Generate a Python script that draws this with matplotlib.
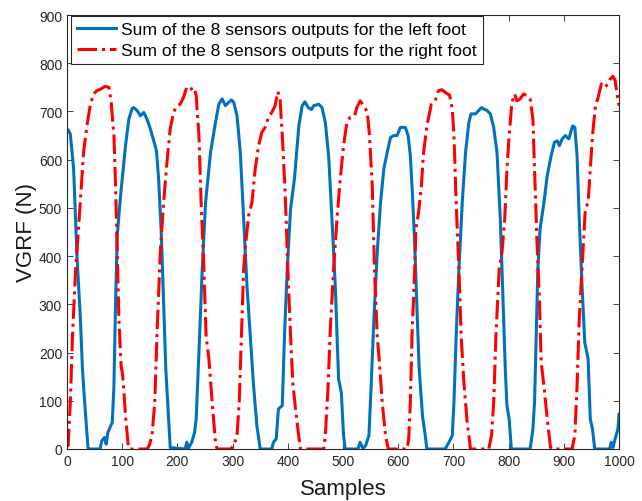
import matplotlib
matplotlib.use("Agg")
import matplotlib.pyplot as plt

plt.rcParams['font.family'] = ['Liberation Sans', 'DejaVu Sans']

# sum of the 8 sensors, left foot
left_x = [0, 2, 6, 12, 18, 24, 28, 32, 38, 39, 60, 63, 68, 71, 74, 78, 82, 85, 88, 91, 97,
          106, 112, 118, 121, 127, 133, 139, 145, 151, 157, 162, 166, 171, 175, 179, 183, 187,
          214, 217, 220, 226, 231, 234, 239, 245, 251, 260, 269, 275, 281, 287, 293, 298, 302,
          308, 314, 320, 326, 332, 338, 344, 350, 371, 374, 379, 383, 390, 394, 399, 405, 412,
          420, 426, 431, 437, 443, 447, 456, 462, 468, 474, 480, 486, 492, 497, 501, 504, 527,
          531, 536, 541, 547, 551, 556, 562, 568, 574, 580, 586, 592, 598, 604, 613, 618, 622,
          626, 630, 634, 638, 644, 649, 652, 685, 692, 698, 701, 705, 710, 716, 722, 728, 732,
          740, 746, 751, 755, 761, 767, 773, 779, 785, 788, 794, 797, 801, 805, 839, 844, 847,
          850, 853, 857, 864, 870, 877, 883, 888, 892, 897, 903, 909, 916, 920, 924, 928, 933,
          938, 944, 948, 952, 956, 983, 986, 989, 993, 998, 1000]
left_y = [658, 662, 653, 581, 401, 276, 166, 97, 3, 0, 0, 17, 24, 10, 34, 45, 55, 131, 304,
          442, 525, 629, 684, 706, 708, 702, 691, 698, 684, 664, 639, 619, 560, 442, 304, 166,
          83, 3, 0, 14, 1, 14, 34, 62, 200, 373, 511, 615, 677, 715, 726, 712, 719, 724, 719,
          691, 615, 477, 339, 235, 131, 48, 0, 0, 14, 21, 83, 90, 235, 373, 498, 560, 670, 712,
          720, 708, 704, 712, 715, 708, 677, 608, 477, 339, 145, 117, 28, 0, 0, 14, 1, 7, 28,
          131, 270, 408, 511, 581, 615, 646, 650, 650, 667, 667, 650, 608, 525, 422, 290, 166,
          69, 28, 0, 0, 14, 28, 97, 235, 373, 511, 615, 677, 695, 695, 702, 708, 705, 702, 695,
          667, 615, 477, 373, 166, 90, 62, 0, 0, 41, 97, 235, 373, 456, 511, 567, 608, 636,
          639, 629, 643, 650, 643, 670, 667, 608, 477, 339, 221, 187, 62, 41, 0, 0, 14, 3, 21,
          41, 72]

# sum of the 8 sensors, right foot
right_x = [0, 2, 6, 10, 15, 20, 24, 30, 36, 42, 48, 54, 62, 69, 76, 80, 85, 88, 91, 94, 98,
           101, 106, 111, 114, 145, 149, 154, 159, 163, 169, 175, 181, 187, 193, 199, 205, 211,
           217, 223, 230, 234, 239, 243, 248, 252, 257, 263, 269, 272, 296, 302, 308, 312, 316,
           320, 324, 329, 335, 341, 347, 353, 359, 365, 371, 377, 382, 386, 390, 394, 397, 400,
           405, 409, 414, 419, 423, 465, 468, 473, 477, 483, 489, 495, 501, 507, 513, 521, 525,
           531, 538, 544, 548, 553, 557, 562, 566, 571, 577, 582, 616, 619, 622, 625, 630, 632,
           637, 642, 646, 652, 660, 667, 673, 679, 687, 693, 698, 701, 705, 710, 714, 719, 725,
           731, 764, 769, 773, 777, 783, 788, 793, 797, 801, 806, 811, 815, 821, 827, 833, 839,
           844, 847, 851, 856, 859, 864, 870, 876, 879, 915, 920, 924, 928, 933, 939, 944, 948,
           952, 957, 963, 968, 974, 980, 984, 989, 993, 996, 1000]
right_y = [12, 7, 97, 235, 359, 442, 511, 615, 670, 712, 736, 743, 747, 752, 750, 719, 650,
           546, 408, 270, 173, 152, 69, 7, 0, 0, 7, 28, 97, 235, 408, 511, 594, 664, 698, 712,
           715, 729, 750, 745, 750, 733, 650, 511, 373, 235, 187, 97, 14, 0, 0, 7, 28, 97, 235,
           373, 429, 484, 511, 581, 629, 657, 667, 688, 698, 712, 741, 726, 650, 560, 477, 373,
           235, 138, 83, 34, 0, 0, 28, 131, 249, 373, 477, 560, 629, 677, 688, 691, 708, 722,
           712, 698, 650, 546, 373, 235, 180, 97, 28, 0, 0, 21, 97, 235, 373, 456, 491, 546,
           615, 670, 715, 722, 743, 745, 738, 734, 705, 650, 511, 373, 235, 138, 55, 0, 0, 28,
           97, 235, 373, 408, 477, 581, 650, 719, 736, 722, 726, 736, 733, 726, 684, 581, 442,
           304, 180, 131, 62, 3, 0, 0, 28, 131, 270, 373, 498, 511, 581, 650, 708, 733, 757,
           750, 757, 767, 773, 764, 740, 712]

fig = plt.figure(figsize=(6.42, 5.02), dpi=100)
ax = fig.add_axes([67 / 642, 52 / 502, 552 / 642, 434 / 502])

ax.plot(left_x, left_y, color='#0072BD', lw=2.2,
        label='Sum of the 8 sensors outputs for the left foot')
ax.plot(right_x, right_y, color='#FF0000', lw=2.2, ls='-.',
        label='Sum of the 8 sensors outputs for the right foot')

ax.set_xlim(0, 1000)
ax.set_ylim(0, 900)
ax.set_xticks(range(0, 1001, 100))
ax.set_yticks(range(0, 901, 100))
ax.tick_params(direction='in', top=True, right=True, labelsize=10,
               colors='#262626', length=4, width=0.6)
for s in ax.spines.values():
    s.set_linewidth(0.8)
    s.set_color('#262626')

ax.set_xlabel('Samples', fontsize=16, color='#1a1a1a', labelpad=7)
ax.set_ylabel('VGRF (N)', fontsize=16, color='#1a1a1a', labelpad=1)

leg = ax.legend(loc='upper left', bbox_to_anchor=(0.006, 1.0), fontsize=12.6,
                fancybox=False, framealpha=1, edgecolor='#262626',
                borderpad=0.35, handlelength=2.2, handletextpad=0.3,
                labelspacing=0.3, borderaxespad=0.05)
leg.get_frame().set_linewidth(0.8)

fig.savefig('out.png', dpi=100)
